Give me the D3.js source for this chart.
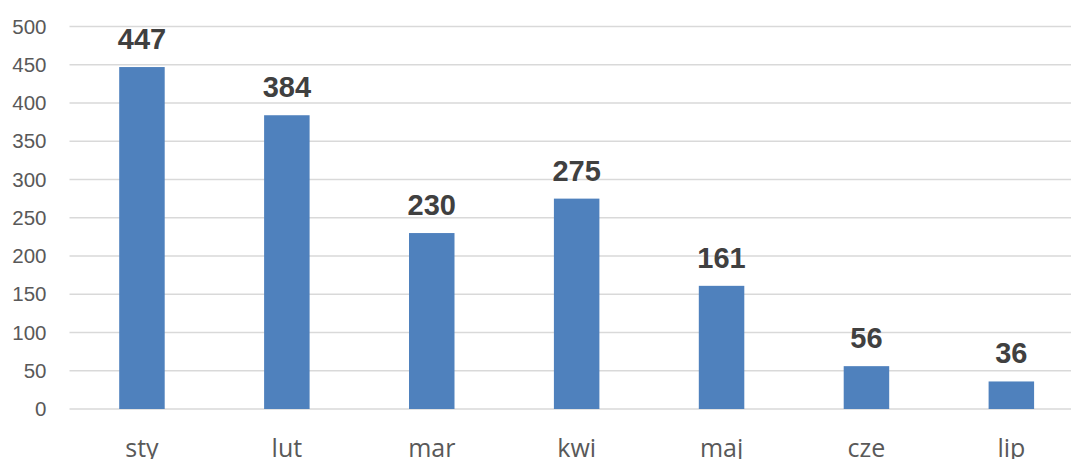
<!DOCTYPE html>
<html>
<head>
<meta charset="utf-8">
<script src="https://cdn.jsdelivr.net/npm/d3@7"></script>
<style>
  body { margin: 0; background: #fff; }
  svg { display: block; font-family: "Liberation Sans", Arial, sans-serif; }
</style>
</head>
<body>
<svg id="chart" width="1071" height="459"></svg>
<script>
var months = ["sty", "lut", "mar", "kwi", "maj", "cze", "lip"];
var values = [447, 384, 230, 275, 161, 56, 36];
var yTicks = [0, 50, 100, 150, 200, 250, 300, 350, 400, 450, 500];

var svg = d3.select("#chart"),
    margin = { top: 26.5, left: 69.5, bottom: 50 },
    step = 144.9,
    height = 409 - margin.top;

var xScale = d3.scaleBand()
    .domain(months)
    .range([margin.left, margin.left + step * months.length])
    .paddingInner(0.686)
    .paddingOuter(0.343);

var yScale = d3.scaleLinear().domain([0, 500]).range([409, margin.top]);

// siatka
svg.append("g")
    .selectAll("line")
    .data(yTicks)
    .enter().append("line")
    .attr("x1", margin.left)
    .attr("x2", 1071)
    .attr("y1", d => yScale(d))
    .attr("y2", d => yScale(d))
    .attr("stroke", "#d9d9d9")
    .attr("stroke-width", 1.5);

// oś Y
var yAxis = svg.append("g")
    .attr("transform", "translate(" + margin.left + ",0)")
    .call(d3.axisLeft(yScale).tickValues(yTicks).tickSize(0).tickPadding(23));
yAxis.select(".domain").remove();
yAxis.selectAll("text")
    .attr("font-size", "20.5px")
    .attr("font-family", "Liberation Sans, Arial, sans-serif")
    .attr("fill", "#595959");

// słupki
svg.selectAll(".bar")
    .data(values)
    .enter().append("rect")
    .attr("class", "bar")
    .attr("x", (d, i) => xScale(months[i]))
    .attr("y", d => yScale(d))
    .attr("width", xScale.bandwidth())
    .attr("height", d => 409 - yScale(d))
    .attr("fill", "#4f81bd");

// etykiety wartości
svg.selectAll(".val")
    .data(values)
    .enter().append("text")
    .attr("class", "val")
    .attr("x", (d, i) => xScale(months[i]) + xScale.bandwidth() / 2)
    .attr("y", d => yScale(d) - 18)
    .attr("text-anchor", "middle")
    .attr("font-size", "29px")
    .attr("font-weight", "bold")
    .attr("fill", "#404040")
    .text(d => d);

// oś X
var xAxis = svg.append("g")
    .attr("transform", "translate(0,409)")
    .call(d3.axisBottom(xScale).tickSize(0).tickPadding(30));
xAxis.select(".domain").remove();
xAxis.selectAll("text")
    .attr("font-size", "25px")
    .attr("font-family", "Open Sans, Liberation Sans, sans-serif")
    .attr("fill", "#595959");
</script>
</body>
</html>
